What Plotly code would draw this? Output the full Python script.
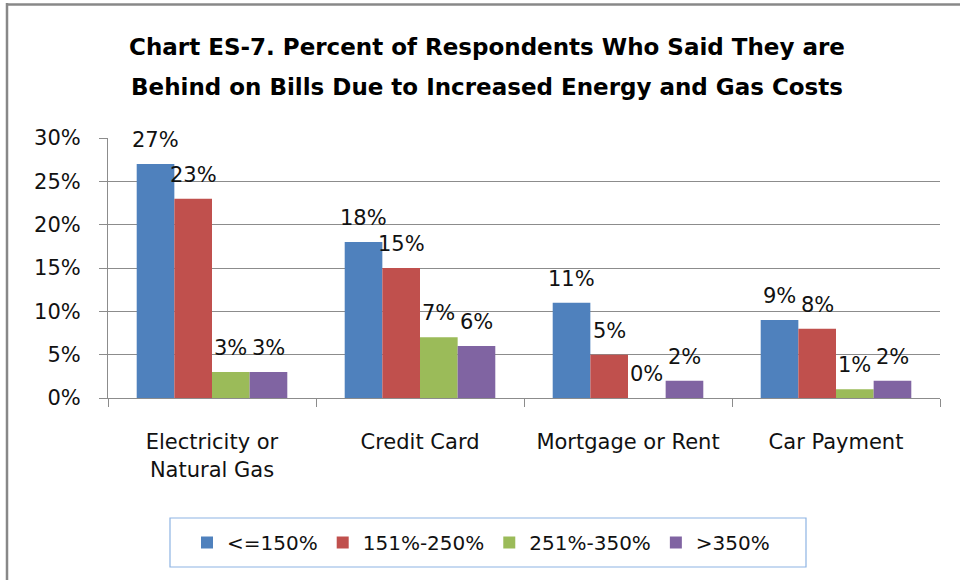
import plotly.graph_objects as go

categories = ["Electricity or<br>Natural Gas", "Credit Card", "Mortgage or Rent", "Car Payment"]
series_names = ["<=150%", "151%-250%", "251%-350%", ">350%"]
v_le150 = [0.27, 0.18, 0.11, 0.09]
v_151_250 = [0.23, 0.15, 0.05, 0.08]
v_251_350 = [0.03, 0.07, 0.00, 0.01]
v_gt350 = [0.03, 0.06, 0.02, 0.02]
series_values = [v_le150, v_151_250, v_251_350, v_gt350]
colors = ["#4F81BD", "#C0504D", "#9BBB59", "#8064A2"]
title_line1 = "Chart ES-7. Percent of Respondents Who Said They are"
title_line2 = "Behind on Bills Due to Increased Energy and Gas Costs"

FONT = "DejaVu Sans"
TXT = "#111111"
W, H = 960, 580
L, R, T, B = 108, 20, 138, 182
pw, ph = W - L - R, H - T - B
BARGAP = 0.276
n_series = len(series_names)
bar_px = pw / len(categories) * (1 - BARGAP) / n_series


def px_x(x):
    return (x - L) / pw


def px_y(y):
    return (H - B - y) / ph


fig = go.Figure()
for name, vals, c in zip(series_names, series_values, colors):
    fig.add_trace(go.Bar(
        x=categories, y=vals, name=name,
        marker=dict(color=c, line=dict(width=0)),
    ))

annotations = []
for i, vals in enumerate(series_values):
    for cat, v in zip(categories, vals):
        annotations.append(dict(
            x=cat, y=v, xref="x", yref="y", text=f"{v:.0%}",
            showarrow=False, xanchor="center", yanchor="middle",
            xshift=(i - (n_series - 1) / 2) * bar_px, yshift=24,
            font=dict(family=FONT, size=21, color=TXT),
        ))
annotations.append(dict(
    x=px_x(487), xref="paper", y=px_y(86.5), yref="paper",
    text=title_line2, showarrow=False, xanchor="center", yanchor="middle",
    font=dict(family=FONT, size=23, color="#000000", weight="bold"),
))

fig.update_layout(
    width=W, height=H,
    margin=dict(l=L, r=R, t=T, b=B, autoexpand=False),
    paper_bgcolor="white", plot_bgcolor="white",
    barmode="group", bargap=BARGAP, bargroupgap=0,
    title=dict(
        text=title_line1,
        x=487 / W, xanchor="center", xref="container",
        y=1 - 47 / H, yanchor="middle", yref="container",
        font=dict(family=FONT, size=23, color="#000000", weight="bold"),
    ),
    font=dict(family=FONT, size=21, color=TXT),
    showlegend=True,
    legend=dict(
        orientation="h", x=px_x(187), xanchor="left", y=px_y(542.5), yanchor="middle",
        font=dict(family=FONT, size=20, color=TXT),
        bgcolor="rgba(0,0,0,0)", borderwidth=0,
        traceorder="normal",
    ),
    annotations=annotations,
    shapes=[
        dict(type="rect", xref="paper", yref="paper",
             x0=px_x(170), x1=px_x(806), y0=px_y(567), y1=px_y(518),
             line=dict(color="#8EB4E3", width=1.2), fillcolor="rgba(0,0,0,0)", layer="below"),
        dict(type="line", xref="paper", yref="paper",
             x0=px_x(7), x1=px_x(7), y0=px_y(3), y1=px_y(H + 5),
             line=dict(color="#888888", width=2.5)),
        dict(type="line", xref="paper", yref="paper",
             x0=px_x(6), x1=px_x(W + 5), y0=px_y(4.5), y1=px_y(4.5),
             line=dict(color="#888888", width=2.5)),
    ],
)

fig.update_yaxes(
    range=[0, 0.30], dtick=0.05, tickformat=".0%",
    showgrid=True, gridcolor="#8C8C8C", gridwidth=1,
    showline=True, linecolor="#8C8C8C", linewidth=1,
    ticks="outside", ticklen=8, tickcolor="#8C8C8C",
    ticklabelstandoff=14,
    tickfont=dict(family=FONT, size=21, color=TXT),
    zeroline=False,
)
fig.update_xaxes(
    showline=True, linecolor="#8C8C8C", linewidth=1,
    ticks="outside", ticklen=8, tickcolor="#8C8C8C", tickson="boundaries",
    ticklabelstandoff=25,
    tickfont=dict(family=FONT, size=21, color=TXT),
    showgrid=False,
)

fig.write_html("out.html", config={"displayModeBar": False},
               post_script="document.body.style.margin='0';")
